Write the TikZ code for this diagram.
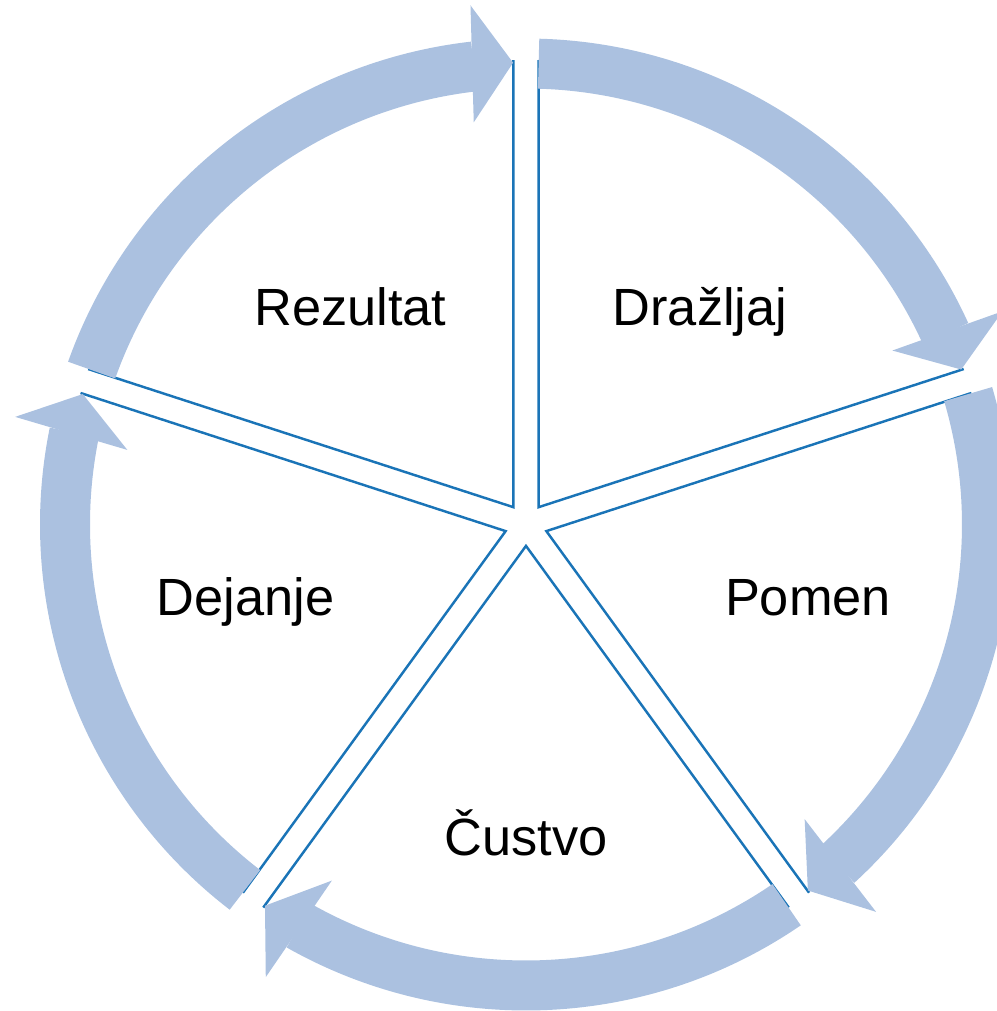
\documentclass[tikz,border=0pt]{standalone}
\usepackage{fontspec}
\setmainfont{Liberation Sans}
\usetikzlibrary{calc}
\definecolor{CycleBand}{HTML}{ABC1E0}
\definecolor{CycleEdge}{HTML}{1A74B7}
\tikzset{
  wedge line/.style={draw=CycleEdge,line width=1.4pt,line join=miter},
  cycle band/.style={fill=CycleBand,draw=none},
  stage label/.style={anchor=base,inner sep=0pt,text=black,
    font=\fontsize{29.8}{34}\selectfont}
}

\begin{document}
\begin{tikzpicture}[x=0.2mm,y=0.2mm]
        \useasboundingbox (-526,-486.5) rectangle (471,524.5);

        % the five wedges, pushed out from the centre
        \foreach \b in {54,-18,-90,-162,126}{
          \draw[wedge line]
            ($(\b:21.4)+(\b+36:447)$) -- (\b:21.4) -- ++(\b-36:447);
        }

        % the curved arrows round the wedges
        \foreach \b in {54,-18,-90,-162,126}{
          \pgfmathsetmacro\tailA{\b+36-1.57}
          \pgfmathsetmacro\tipA{\b-36+1.6}
          \pgfmathsetmacro\backA{\tipA+4.9}
          \fill[cycle band]
            (\tailA:486) arc[start angle=\tailA,end angle=\backA,radius=486]
            -- (\backA:436) arc[start angle=\backA,end angle=\tailA,radius=436]
            -- cycle;
          \fill[cycle band]
            (\tipA:462)
            -- ($(\tipA:462)+(\tipA+90:41)+(\tipA:58.5)$)
            -- ($(\tipA:462)+(\tipA+90:41)+(\tipA:-58.5)$)
            -- cycle;
        }

        \node[stage label] (drazljaj) at (174,199.5) {Dražljaj};
        \node[stage label] (pomen) at (282,-90.5) {Pomen};
        \node[stage label] (custvo) at (0,-330.5) {Čustvo};
        \node[stage label] (dejanje) at (-280.5,-90.5) {Dejanje};
        \node[stage label] (rezultat) at (-175.5,199.5) {Rezultat};
      \end{tikzpicture}
\end{document}
